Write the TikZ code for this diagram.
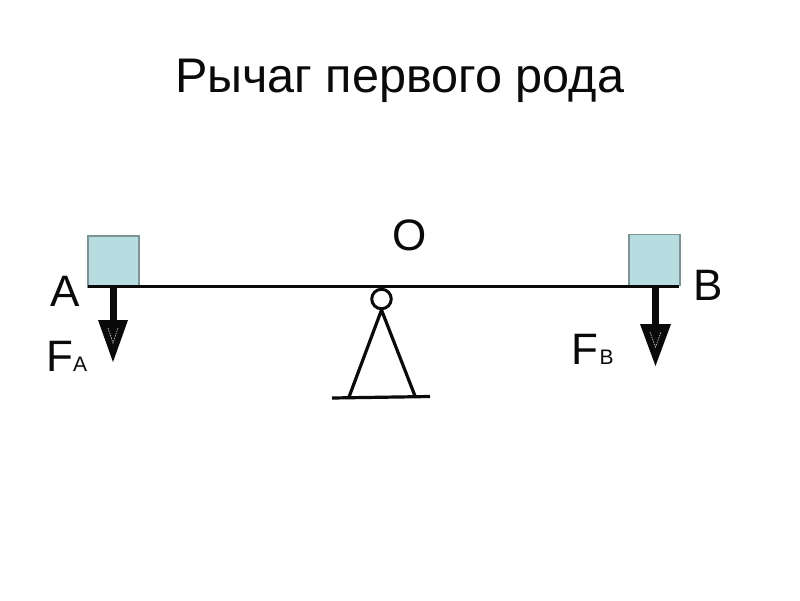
\documentclass[tikz,border=0pt]{standalone}
\usepackage{fontspec}
\setmainfont{Liberation Sans}
\definecolor{boxfill}{HTML}{B7DDE1}
\definecolor{boxline}{HTML}{7C9496}
\definecolor{ink}{HTML}{0A0A0A}
\tikzset{
  weight/.style={draw=boxline,fill=boxfill,line width=1.5pt,minimum size=51pt,inner sep=0pt,outer sep=0pt},
  lbl/.style={inner sep=0pt,outer sep=0pt,anchor=base west,text=ink},
  big/.style={lbl,font=\fontsize{44}{44}\selectfont},
  small/.style={lbl,font=\fontsize{21}{21}\selectfont},
  beamline/.style={draw=ink,line width=3pt},
  leg/.style={draw=ink,line width=3.2pt},
  stem/.style={draw=ink,line width=7pt},
  head/.style={fill=ink,draw=none},
  glint/.style={draw=white!75!black,line width=.7pt,dash pattern=on 1.5pt off 1pt}
}
\begin{document}
\begin{tikzpicture}[x=1pt,y=-1pt]
\useasboundingbox[fill=white] (0,0) rectangle (800,600);
\node[lbl,font=\fontsize{48.6}{48.6}\selectfont] (title) at (175,92) {Рычаг первого рода};
% weights
\node[weight] (wa) at (113.5,261.5) {};
\node[weight] (wb) at (654.5,260) {};
% beam
\coordinate (bl) at (88,286);
\coordinate (br) at (679,286);
\draw[beamline] (bl) -- (br);
% pivot
\node[circle,draw=ink,line width=3pt,minimum size=19.5pt,inner sep=0pt,fill=white] (piv) at (381.5,299) {};
\coordinate (apex) at (381.5,310);
\coordinate (fl) at (349,397);
\coordinate (fr) at (415,396);
\coordinate (gl) at (332,398);
\coordinate (gr) at (430,396.5);
\draw[leg,line join=round] (fl) -- (apex) -- (fr);
\draw[leg] (gl) -- (gr);
% force A
\coordinate (ta) at (113,322);
\draw[stem] (wa.south -| ta) -- (ta);
\fill[head] (98,320) -- (128,320) -- (113,362) -- cycle;
\draw[glint] (108,328) -- (113,343) -- (118,328);
% force B
\coordinate (tb) at (655.5,325);
\draw[stem] (wb.south -| tb) -- (tb);
\fill[head] (640,324) -- (671,324) -- (655.5,366) -- cycle;
\draw[glint] (650,332) -- (655.5,347) -- (661,332);
% labels
\node[big] (lo) at (392,250) {O};
\node[big] (la) at (50.5,306) {A};
\node[big] (lb) at (693.5,300.5) {B};
\node[big] (fa) at (46,371) {F};
\node[small] (fas) at (73,371) {A};
\node[big] (fb) at (571.5,364) {F};
\node[small] (fbs) at (599.5,364) {B};
\end{tikzpicture}
\end{document}
